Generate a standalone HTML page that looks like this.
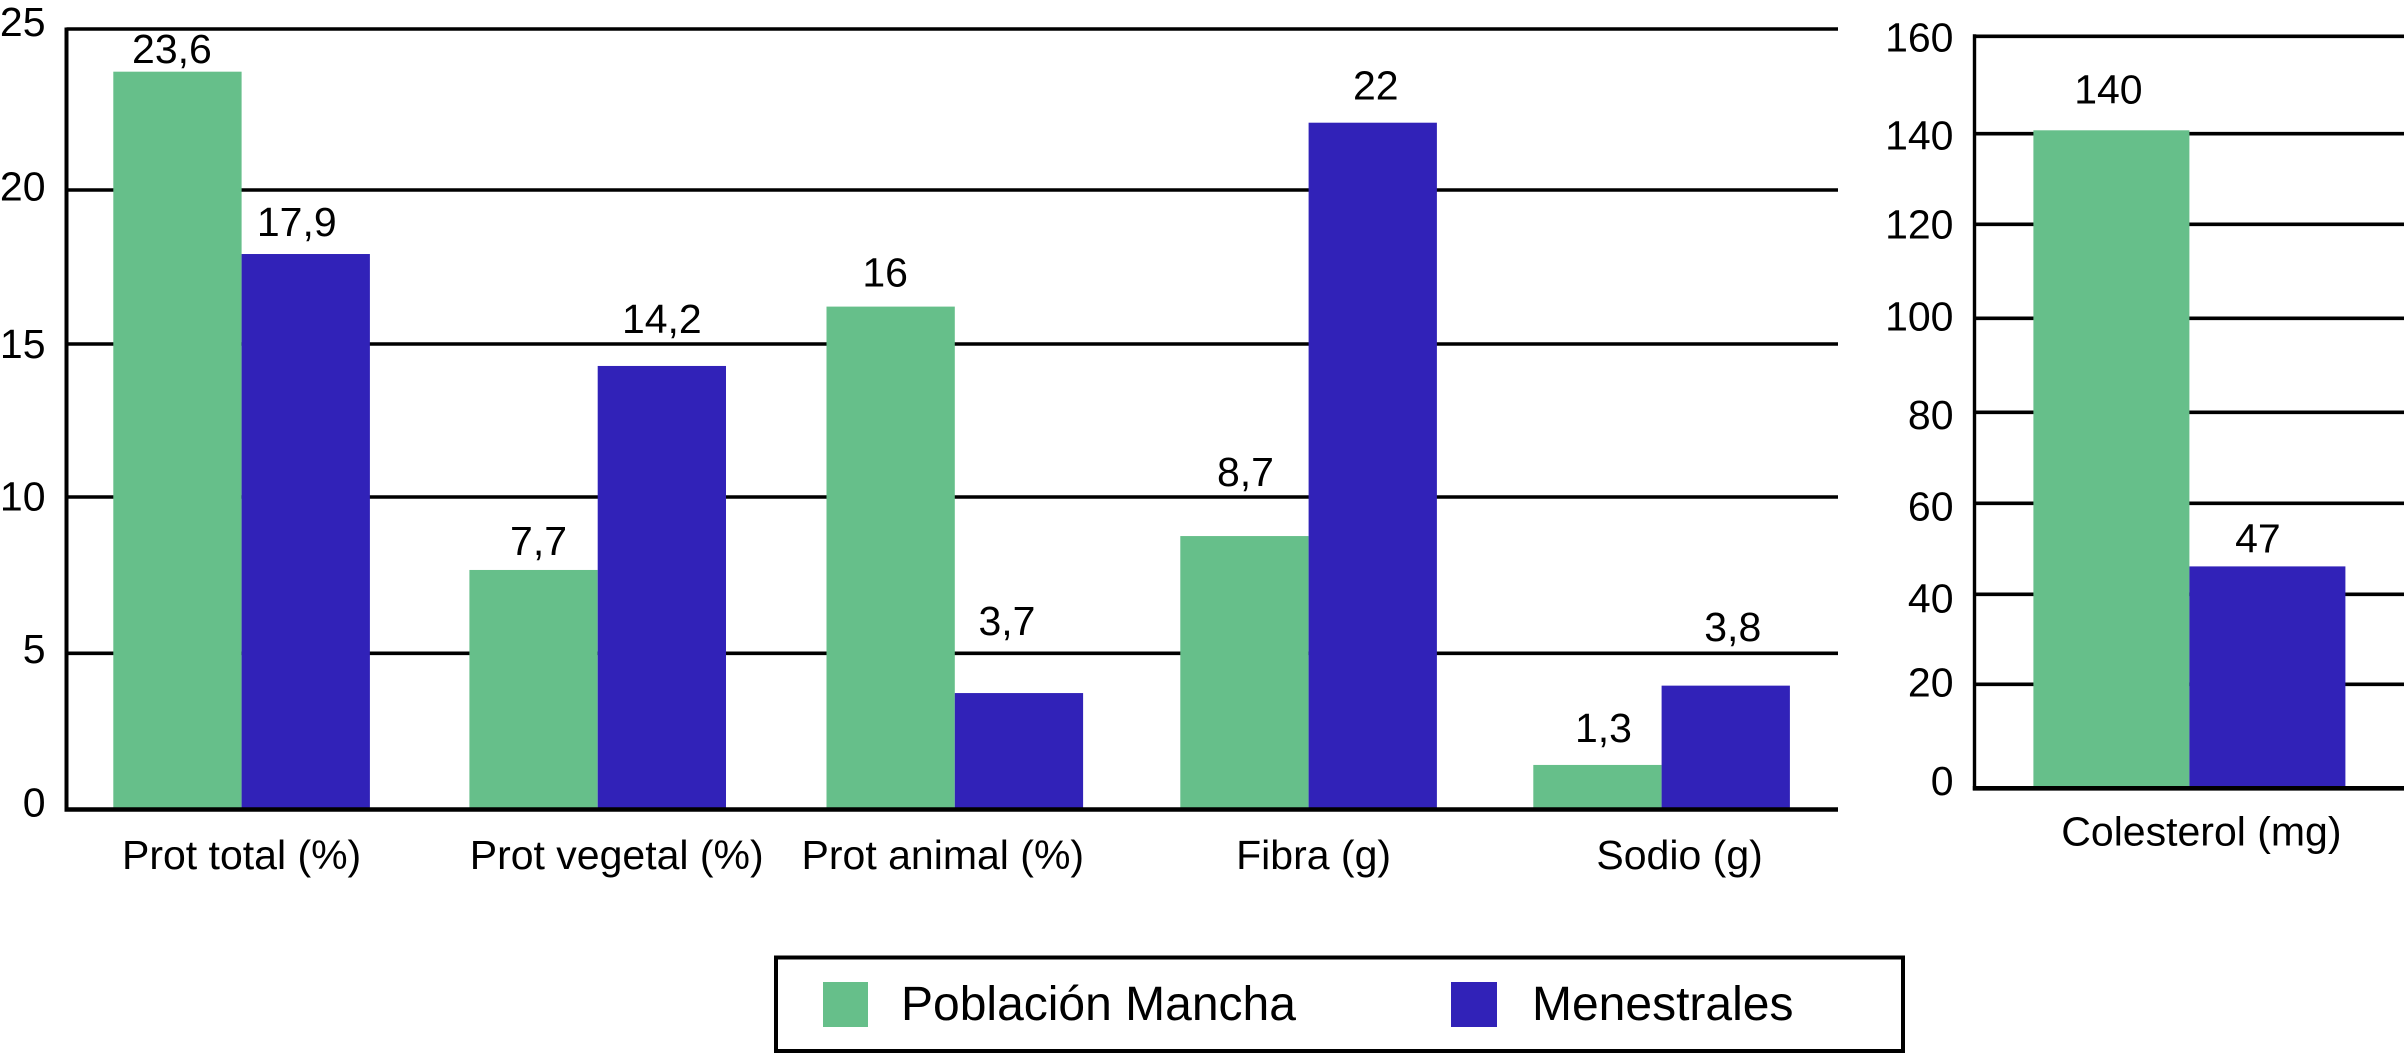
<!DOCTYPE html>
<html lang="es">
<head>
<meta charset="utf-8">
<title>Población Mancha vs Menestrales</title>
<style>
  html, body { margin: 0; padding: 0; background: #fff; }
  body { width: 2404px; height: 1053px; overflow: hidden; }
  svg { display: block; font-family: "Liberation Sans", Arial, sans-serif; fill: #000; }
  text { font-size: 41px; }
  .legend-text { font-size: 48px; }
</style>
</head>
<body>
<svg id="chart" xmlns="http://www.w3.org/2000/svg" width="2404" height="1053" viewBox="0 0 2404 1053">
  <rect x="0" y="0" width="2404" height="1053" fill="#ffffff"/>
  <g id="left-panel"></g>
  <g id="right-panel"></g>
  <g>
    <rect x="776" y="957.5" width="1127" height="93.5" fill="none" stroke="#000" stroke-width="4"/>
    <rect x="823" y="982" width="45" height="45" fill="#66bf8a"/>
    <text class="legend-text" x="901" y="1020">Población Mancha</text>
    <rect x="1451" y="982" width="46" height="45" fill="#3122b8"/>
    <text class="legend-text" x="1532" y="1020">Menestrales</text>
  </g>
</svg>
<script>
// Left panel data
const mainCategories = ["Prot total (%)", "Prot vegetal (%)", "Prot animal (%)", "Fibra (g)", "Sodio (g)"];
const mainPoblacion = [23.6, 7.7, 16, 8.7, 1.3];
const mainMenestrales = [17.9, 14.2, 3.7, 22, 3.8];
const mainTicks = [0, 5, 10, 15, 20, 25];

// Right panel data
const cholCategories = ["Colesterol (mg)"];
const cholPoblacion = [140];
const cholMenestrales = [47];
const cholTicks = [0, 20, 40, 60, 80, 100, 120, 140, 160];

const GREEN = "#66bf8a";
const BLUE = "#3122b8";
const SVG_NS = "http://www.w3.org/2000/svg";

function make(parent, tag, attrs, content) {
  const el = document.createElementNS(SVG_NS, tag);
  for (const key in attrs) el.setAttribute(key, attrs[key]);
  if (content !== undefined) el.textContent = content;
  parent.appendChild(el);
  return el;
}

function printed(v) {
  return String(v).replace(".", ",");
}

// Axis functions
function mainY(v) { return 809.5 - 31.2 * v; }
function mainGroupX(i) { return 113.3 + 355 * i + [0, 1.1, 3.2, 2, 0][i]; }
function cholY(v) { return 788.3 - 4.7 * v; }
function cholGroupX(i) { return 2033.4 + i * 400; }

function drawPanel(p) {
  // gridlines and tick labels
  p.ticks.forEach(function (t, i) {
    const y = p.yScale(t) + p.gridNudge[i];
    if (t !== 0) {
      const grid = make(p.root, "line", { x1: p.axisX, x2: p.axisEnd, y1: y, y2: y, stroke: "#000", "stroke-width": 3.6 });
      
      
    }
    const label = make(p.root, "text", { x: p.tickRight, y: p.yScale(t) + p.tickNudge[i], "text-anchor": "end" }, String(t));
    
    
  });

  // bars
  p.categories.forEach(function (c, i) {
    const x0 = p.groupX(i);
    const g = p.seriesA[i];
    const b = p.seriesB[i];
    const topA = p.yScale(g) + p.barDyA[i];
    const topB = p.yScale(b) + p.barDyB[i];

    const barA = make(p.root, "rect", { x: x0, y: topA, width: p.barWidth, height: p.yScale(0) - topA, fill: GREEN });
    
    

    const barB = make(p.root, "rect", { x: x0 + p.barWidth, y: topB, width: p.barWidth, height: p.yScale(0) - topB, fill: BLUE });
    
    

    const valA = make(p.root, "text", { x: x0 + p.barWidth / 2 + p.labelDxA[i], y: p.yScale(g) + p.labelDyA[i], "text-anchor": "middle" }, printed(g));
    
    

    const valB = make(p.root, "text", { x: x0 + 1.5 * p.barWidth + p.labelDxB[i], y: p.yScale(b) + p.labelDyB[i], "text-anchor": "middle" }, printed(b));
    
    

    const cat = make(p.root, "text", { x: x0 + p.barWidth + p.catDx[i], y: p.catY, "text-anchor": "middle" }, c);
    
    
  });

  // axis lines
  const yAxis = make(p.root, "line", { x1: p.axisX, x2: p.axisX, y1: p.yScale(p.ticks[p.ticks.length - 1]) - 2, y2: p.yScale(0) + 2, stroke: "#000", "stroke-width": p.axisWidth });
  
  

  const xAxis = make(p.root, "line", { x1: p.axisX - p.axisWidth / 2, x2: p.axisEnd, y1: p.yScale(0), y2: p.yScale(0), stroke: "#000", "stroke-width": 4.6 });
  
  
}

drawPanel({
  root: document.getElementById("left-panel"),
  ticks: mainTicks,
  categories: mainCategories,
  seriesA: mainPoblacion,
  seriesB: mainMenestrales,
  yScale: mainY,
  groupX: mainGroupX,
  barWidth: 128.3,
  axisX: 66.5,
  axisEnd: 1838,
  axisWidth: 4,
  tickRight: 45.5,
  catY: 869,
  gridNudge: [0, -0.2, -0.5, 2.5, 4.5, -0.5],
  tickNudge: [7, 9.5, 13, 16.5, 15.2, 6.5],
  barDyA: [-1.5, 0.7, -3.7, -2, -4],
  barDyB: [3, -0.5, -1, -0.4, -5.3],
  labelDxA: [-5.5, 5, -5.5, 1, 6],
  labelDyA: [-10.2, -14.3, -23.6, -52, -27],
  labelDxB: [-9, 0, -12, 3, 7],
  labelDyB: [-15, -33.5, -59, -23.4, -50],
  catDx: [0, 19, -12, 5, 18]
});

drawPanel({
  root: document.getElementById("right-panel"),
  ticks: cholTicks,
  categories: cholCategories,
  seriesA: cholPoblacion,
  seriesB: cholMenestrales,
  yScale: cholY,
  groupX: cholGroupX,
  barWidth: 156,
  axisX: 1974.5,
  axisEnd: 2404,
  axisWidth: 3.4,
  tickRight: 1953.5,
  catY: 845.5,
  gridNudge: [0, -10, -6, -3, 0, 0, 0, 3.4, 0],
  tickNudge: [6.7, 2.4, 12.4, 14.4, 16.7, 12.4, 14, 19, 15.4],
  barDyA: [0],
  barDyB: [-1],
  labelDxA: [-3],
  labelDyA: [-27],
  labelDxB: [-9.5],
  labelDyB: [-14.7],
  catDx: [12]
});
</script>
</body>
</html>
